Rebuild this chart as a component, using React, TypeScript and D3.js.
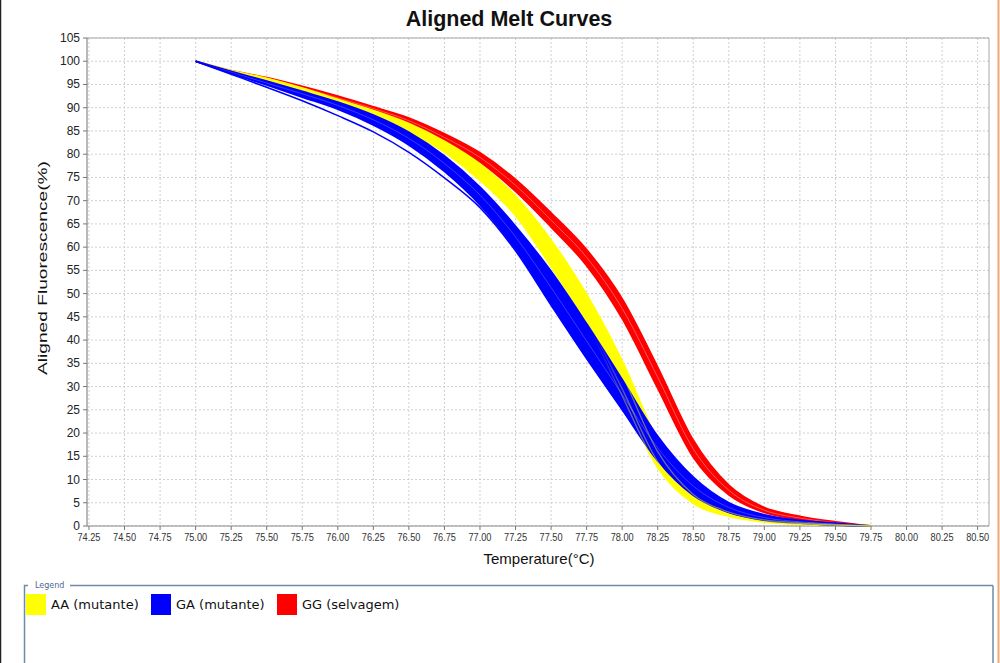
import React from "react";
import * as d3 from "d3";

// Temperatures (°C) at which each melt curve is sampled
const temperatures = [75.0, 75.25, 75.5, 75.75, 76.0, 76.25, 76.5, 76.75, 77.0, 77.25, 77.5, 77.75, 78.0, 78.25, 78.5, 78.75, 79.0, 79.25, 79.5, 79.75];

// AA (mutante) – aligned fluorescence (%)
const aaUpper = [100, 98.0, 96.3, 94.2, 91.8, 89.4, 86.6, 82.8, 77.9, 71.0, 61.5, 49.8, 35.5, 18.5, 8.0, 3.6, 1.6, 0.9, 0.4, 0];
const aaMid = [100, 97.8, 96.0, 93.8, 91.3, 88.8, 85.8, 81.6, 76.4, 69.2, 58.8, 46.8, 32.5, 16.0, 6.8, 3.0, 1.3, 0.7, 0.3, 0];
const aaLower = [100, 97.6, 95.7, 93.4, 90.8, 88.1, 85.0, 80.7, 75.0, 67.5, 56.5, 44.4, 29.5, 13.8, 5.6, 2.5, 1.0, 0.5, 0.2, 0];
const aaLowest = [100, 97.6, 95.6, 93.3, 90.7, 87.9, 84.8, 80.4, 74.4, 66.8, 55.8, 43.6, 28.0, 12.6, 4.9, 2.1, 0.9, 0.4, 0.2, 0];

// GA (mutante)
const gaUpper = [100, 97.8, 95.7, 93.5, 91.2, 88.4, 84.7, 79.6, 72.9, 64.5, 54.8, 43.5, 31.5, 19.3, 10.5, 5.0, 2.4, 1.2, 0.6, 0];
const gaMid = [100, 97.6, 95.3, 93.0, 90.5, 87.4, 83.4, 78.0, 71.2, 62.2, 51.3, 39.8, 28.3, 16.8, 8.6, 4.0, 1.8, 0.9, 0.4, 0];
const gaLower = [100, 97.4, 94.9, 92.3, 89.7, 86.3, 82.0, 76.3, 69.1, 59.6, 47.8, 36.2, 25.2, 14.2, 6.8, 3.0, 1.3, 0.6, 0.2, 0];
const gaLone = [100, 97.2, 94.4, 91.5, 88.3, 84.8, 80.4, 74.9, 68.5, 59.2, 47.5, 36.0, 25.0, 14.0, 6.6, 2.9, 1.2, 0.6, 0.2, 0];

// GG (selvagem)
const ggUpper = [100, 98.0, 96.5, 94.6, 92.5, 90.2, 87.8, 84.4, 80.3, 74.6, 67.4, 59.5, 48.9, 34.2, 18.5, 8.8, 4.0, 2.1, 0.9, 0];
const ggMid = [100, 97.9, 96.3, 94.3, 92.1, 89.8, 87.2, 83.6, 79.3, 73.3, 65.8, 57.8, 46.8, 32.0, 16.6, 7.7, 3.4, 1.7, 0.7, 0];
const ggLower = [100, 97.8, 96.1, 94.0, 91.7, 89.3, 86.5, 82.8, 78.3, 72.0, 64.3, 56.0, 44.6, 29.6, 14.8, 6.7, 2.9, 1.4, 0.5, 0];

// Axis ticks
const xTicks = [74.25, 74.5, 74.75, 75.0, 75.25, 75.5, 75.75, 76.0, 76.25, 76.5, 76.75, 77.0, 77.25, 77.5, 77.75, 78.0, 78.25, 78.5, 78.75, 79.0, 79.25, 79.5, 79.75, 80.0, 80.25, 80.5];
const yTicks = [0, 5, 10, 15, 20, 25, 30, 35, 40, 45, 50, 55, 60, 65, 70, 75, 80, 85, 90, 95, 100, 105];

const legendLabels = ["AA (mutante)", "GA (mutante)", "GG (selvagem)"];
const groupColors = ["#ffff00", "#0000ff", "#ff0000"];

const aaCurves = [aaUpper, aaMid, aaLower, aaLowest];
const gaCurves = [gaUpper, gaMid, gaLower, gaLone];
const ggCurves = [ggUpper, ggMid, ggLower];

const W = 1000;
const H = 663;
const plot = { left: 87, right: 989, top: 38, bottom: 526 };

export default function App() {
  const x = d3.scaleLinear().domain([74.236, 80.58]).range([plot.left, plot.right]);
  const y = d3.scaleLinear().domain([0, 105]).range([plot.bottom, plot.top]);

  const line = d3
    .line<number>()
    .x((_, i) => x(temperatures[i]))
    .y((v) => y(v))
    .curve(d3.curveMonotoneX);

  // filled envelope of a bundle of curves
  const band = (curves: number[][]) =>
    d3
      .area<number>()
      .x((t) => x(t))
      .y0((_, i) => y(d3.min(curves, (c) => c[i]) as number))
      .y1((_, i) => y(d3.max(curves, (c) => c[i]) as number))
      .curve(d3.curveMonotoneX)(temperatures) as string;

  return (
    <svg width={W} height={H} style={{ position: "absolute", left: 0, top: 0, background: "#fff" }} fontFamily="'Liberation Sans', Arial, sans-serif">
      <defs>
        <linearGradient id="fadeIn" gradientUnits="userSpaceOnUse" x1={x(77.8)} x2={x(78.05)} y1={0} y2={0}>
          <stop offset="0" stopColor="#000" />
          <stop offset="1" stopColor="#fff" />
        </linearGradient>
        <mask id="crossing" maskUnits="userSpaceOnUse" x={0} y={0} width={W} height={H}>
          <rect x={0} y={0} width={W} height={H} fill="url(#fadeIn)" />
        </mask>
      </defs>
      <rect x={0} y={0} width={W} height={H} fill="#fff" />
      {/* page edges */}
      <line x1={0.5} y1={0} x2={0.5} y2={H} stroke="#222" strokeWidth={1.5} />
      <line x1={998.5} y1={0} x2={998.5} y2={H} stroke="#f0a872" strokeWidth={2} />

      {/* title */}
      <text x={509} y={26} textAnchor="middle" fontSize={21.5} fontWeight="bold" fill="#111">
        Aligned Melt Curves
      </text>

      {/* grid */}
      <g stroke="#cfcfcf" strokeWidth={1} strokeDasharray="2,2">
        {xTicks.map((t) => (
          <line key={"gx" + t} x1={x(t)} x2={x(t)} y1={plot.top} y2={plot.bottom} />
        ))}
        {yTicks.map((t) => (
          <line key={"gy" + t} x1={plot.left} x2={plot.right} y1={y(t)} y2={y(t)} />
        ))}
      </g>

      {/* frame */}
      <line x1={plot.left} x2={plot.right} y1={plot.top} y2={plot.top} stroke="#a8a8a8" />
      <line x1={plot.right} x2={plot.right} y1={plot.top} y2={plot.bottom} stroke="#a8a8a8" />
      <line x1={plot.left} x2={plot.left} y1={plot.top} y2={plot.bottom} stroke="#8a8a8a" strokeWidth={1.2} />
      <line x1={plot.left} x2={plot.right} y1={plot.bottom} y2={plot.bottom} stroke="#8a8a8a" strokeWidth={1.2} />

      {/* y ticks & labels */}
      {yTicks.map((t) => (
        <g key={"yt" + t}>
          <line x1={plot.left - 4} x2={plot.left} y1={y(t)} y2={y(t)} stroke="#777" />
          <text x={plot.left - 7} y={y(t) + 4} textAnchor="end" fontSize={12} fill="#222">
            {t}
          </text>
        </g>
      ))}

      {/* x ticks & labels */}
      {xTicks.map((t) => (
        <g key={"xt" + t}>
          <line x1={x(t)} x2={x(t)} y1={plot.bottom} y2={plot.bottom + 4} stroke="#777" />
          <text
            x={x(t)}
            y={plot.bottom + 15}
            textAnchor="middle"
            fontSize={11}
            textLength={23}
            lengthAdjust="spacingAndGlyphs"
            fill="#333"
          >
            {t.toFixed(2)}
          </text>
        </g>
      ))}

      {/* axis titles */}
      <text x={539} y={564} textAnchor="middle" fontSize={15} fill="#111">
        Temperature(°C)
      </text>
      <text
        transform="translate(47,268) rotate(-90)"
        textAnchor="middle"
        fontSize={13}
        textLength={214}
        lengthAdjust="spacingAndGlyphs"
        fill="#111"
      >
        Aligned Fluorescence(%)
      </text>

      {/* melt curves */}
      <g>
        {/* GG */}
        <path d={band(ggCurves)} fill={groupColors[2]} />
        {ggCurves.map((c, i) => (
          <path
            key={"gg" + i}
            d={line(c) as string}
            fill="none"
            stroke={i === 1 ? "#ff6a6a" : groupColors[2]}
            strokeWidth={i === 1 ? 1 : 1.6}
            opacity={i === 1 ? 0.8 : 1}
          />
        ))}
        {/* AA */}
        <path d={band(aaCurves)} fill={groupColors[0]} />
        {aaCurves.map((c, i) => (
          <path key={"aa" + i} d={line(c) as string} fill="none" stroke={groupColors[0]} strokeWidth={1.8} />
        ))}
        {/* GA */}
        <path d={band(gaCurves.slice(0, 3))} fill={groupColors[1]} />
        {gaCurves.map((c, i) => (
          <path
            key={"ga" + i}
            d={line(c) as string}
            fill="none"
            stroke={i === 1 ? "#3a3aff" : groupColors[1]}
            strokeWidth={i === 3 ? 1.5 : i === 1 ? 1 : 1.8}
          />
        ))}
        {/* AA curves seen through the GA bundle where they cross it */}
        <g mask="url(#crossing)">
          {[aaMid, aaLower, aaLowest].map((c, i) => (
            <path key={"aax" + i} d={line(c) as string} fill="none" stroke={groupColors[0]} strokeWidth={1.3} opacity={0.42} />
          ))}
        </g>
      </g>

      {/* legend */}
      <g>
        <path d="M24.5,663 V585.5 H28" fill="none" stroke="#6f8aa8" strokeWidth={1.5} />
        <line x1={70} x2={993} y1={585.5} y2={585.5} stroke="#6f8aa8" strokeWidth={1.5} />
        <line x1={993} x2={993} y1={585.5} y2={663} stroke="#6f8aa8" strokeWidth={1.5} />
        <text x={35} y={588} fontSize={8} fill="#4d6a92" fontFamily="'DejaVu Sans', sans-serif">
          Legend
        </text>
        {legendLabels.map((lab, i) => {
          const sx = [26, 151, 277][i];
          return (
            <g key={lab}>
              <rect x={sx} y={594} width={20} height={21} fill={groupColors[i]} />
              <text x={sx + 25} y={609} fontSize={13} fill="#111" fontFamily="'DejaVu Sans', sans-serif">
                {lab}
              </text>
            </g>
          );
        })}
      </g>
    </svg>
  );
}
